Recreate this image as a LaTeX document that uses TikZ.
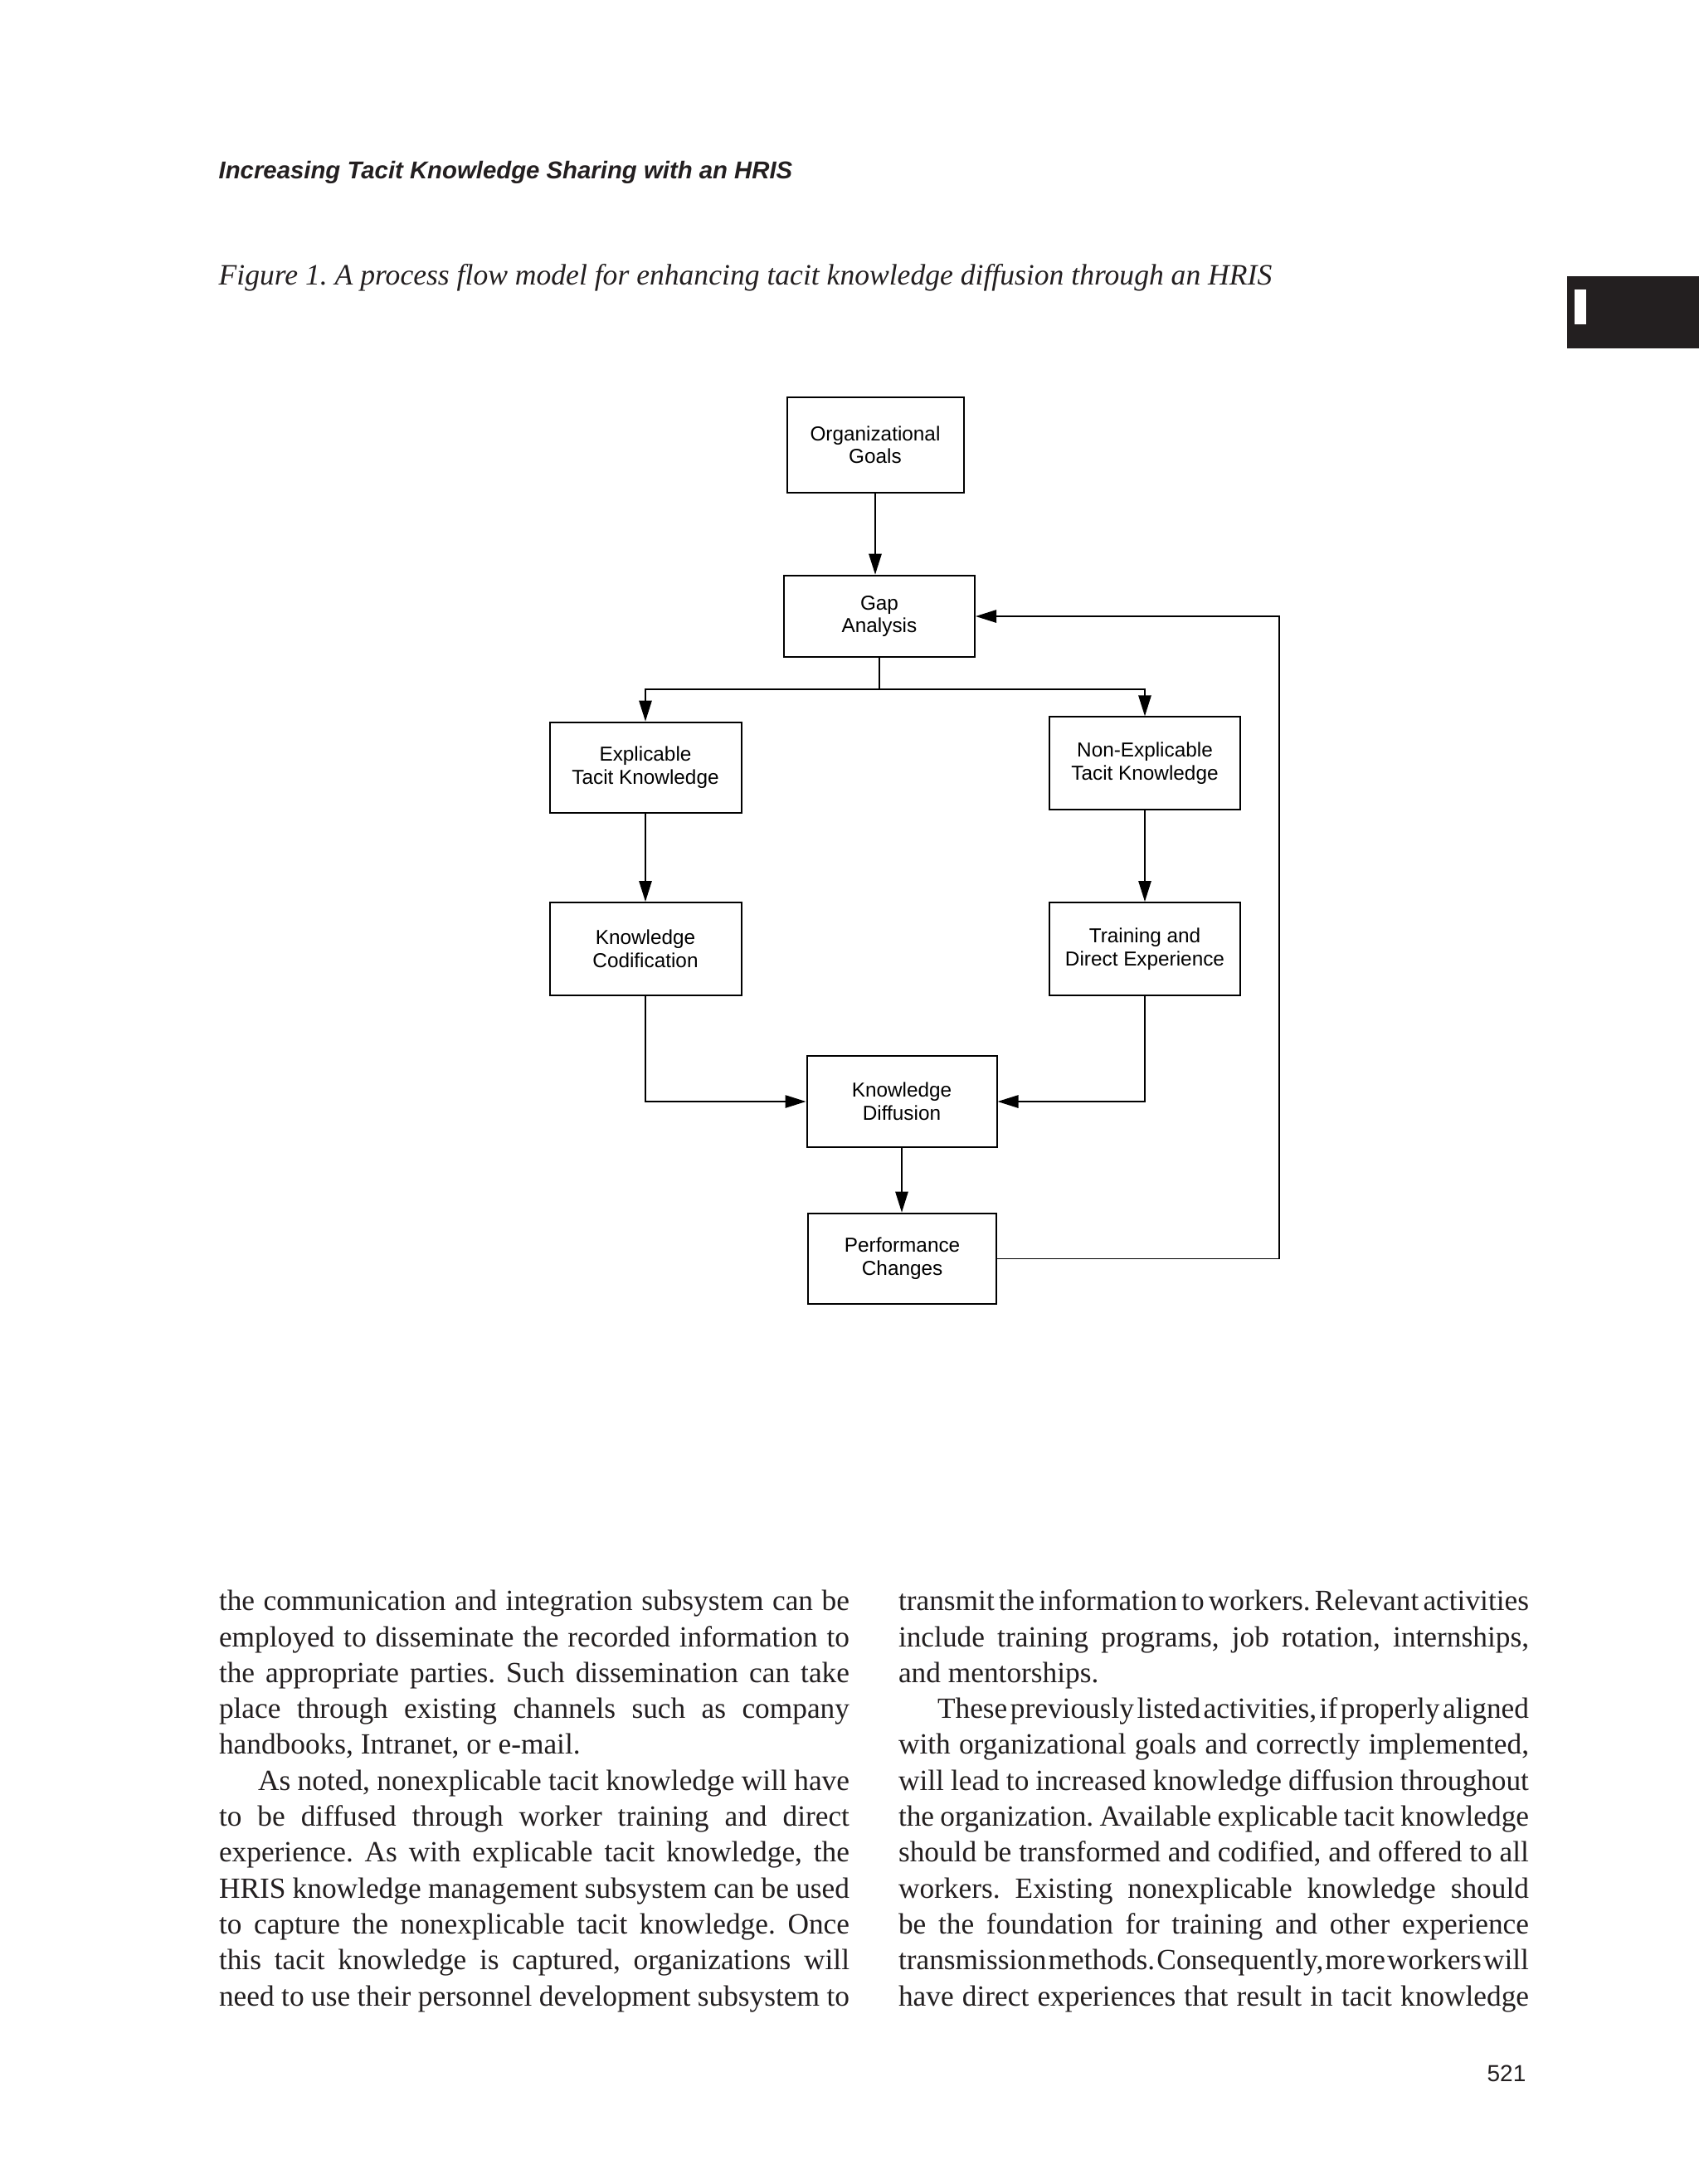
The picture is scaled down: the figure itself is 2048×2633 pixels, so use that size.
\documentclass[tikz,border=0pt]{standalone}
\usepackage{fontspec}
\setmainfont{Liberation Serif}
\setsansfont{Liberation Sans}
\usetikzlibrary{arrows.meta}
\definecolor{ink}{HTML}{231F20}
\newlength\colw \setlength\colw{228pt}
\newlength\colwi \setlength\colwi{213.9pt}
\newcommand\jl[1]{\hbox to \colw{\spaceskip=0.25em plus 0.8em minus 0.22em\relax #1}}
\newcommand\jli[1]{\hbox to \colwi{\spaceskip=0.25em plus 0.8em minus 0.22em\relax #1}}
\newcommand\nl[1]{\hbox{\spaceskip=0.25em\relax #1}}
\tikzset{
  box/.style={draw=black, line width=0.6pt, inner sep=0pt, align=center,
    font=\sffamily\fontsize{7.3pt}{8.3pt}\selectfont},
  arr/.style={-{Triangle[length=7.5pt,width=4.6pt]}, line width=0.5pt},
  conn/.style={line width=0.5pt},
  body/.style={anchor=base west, inner sep=0pt, outer sep=0pt,
    font=\frenchspacing\fontsize{10.6pt}{13pt}\selectfont, text=ink},
}
\begin{document}
\begin{tikzpicture}[x=0.3pt, y=-0.3pt]
\useasboundingbox (0,0) rectangle (2048,2633);
\fill[white] (0,0) rectangle (2048,2633);

% header, caption, tab, page number
\node[anchor=base west, inner sep=0pt, text=ink,
  font=\sffamily\bfseries\itshape\fontsize{8.8pt}{10pt}\selectfont] (head) at (263,215)
  {Increasing Tacit Knowledge Sharing with an HRIS};
\node[anchor=base west, inner sep=0pt, text=ink,
  font=\frenchspacing\itshape\fontsize{10.68pt}{13pt}\selectfont] (cap) at (263,343)
  {Figure 1. A process flow model for enhancing tacit knowledge diffusion through an HRIS};
\fill[ink] (1889,333) rectangle (2048,420);
\fill[white] (1898,349) rectangle (1912,391);
\node[anchor=base east, inner sep=0pt, text=ink,
  font=\sffamily\fontsize{8.4pt}{10pt}\selectfont] (pnum) at (1840,2509) {521};

% diagram boxes
\node[box, minimum width=63.9pt, minimum height=34.5pt] (org) at (1055,536.4) {Organizational\\Goals};
\node[box, minimum width=69pt, minimum height=29.6pt] (gap) at (1060,743) {Gap\\Analysis};
\node[box, minimum width=69.3pt, minimum height=32.8pt] (expl) at (778,925.3) {Explicable\\Tacit Knowledge};
\node[box, minimum width=69.2pt, minimum height=33.5pt] (nonexp) at (1380,920.2) {Non-Explicable\\Tacit Knowledge};
\node[box, minimum width=69.3pt, minimum height=33.6pt] (codif) at (778,1144) {Knowledge\\Codification};
\node[box, minimum width=69.2pt, minimum height=33.6pt] (train) at (1380,1144) {Training and\\Direct Experience};
\node[box, minimum width=68.7pt, minimum height=33pt] (diff) at (1087,1328) {Knowledge\\Diffusion};
\node[box, minimum width=68.3pt, minimum height=32.9pt] (perf) at (1087.6,1517.5) {Performance\\Changes};

% connectors
\coordinate (sp) at (1060,831);
\coordinate (fbx) at (1542.3,0);
\draw[arr] (org.south) -- (org.south |- gap.north);
\draw[conn] (gap.south) -- (sp);
\draw[arr] (sp) -| (expl.north);
\draw[arr] (sp) -| (nonexp.north);
\draw[arr] (expl.south) -- (codif.north);
\draw[arr] (nonexp.south) -- (train.north);
\draw[arr] (codif.south) |- (diff.west);
\draw[arr] (train.south) |- (diff.east);
\draw[arr] (diff.south) -- (diff.south |- perf.north);
\draw[arr] (perf.east) -- (perf.east -| fbx) |- (gap.east);

% left column
\node[body] (L1) at (264,1941.7) {\jl{the communication and integration subsystem can be}};
\node[body] (L2) at (264,1985.0) {\jl{employed to disseminate the recorded information to}};
\node[body] (L3) at (264,2028.3) {\jl{the appropriate parties. Such dissemination can take}};
\node[body] (L4) at (264,2071.6) {\jl{place through existing channels such as company}};
\node[body] (L5) at (264,2114.9) {\nl{handbooks, Intranet, or e-mail.}};
\node[body] (L6) at (311,2158.2) {\jli{As noted, nonexplicable tacit knowledge will have}};
\node[body] (L7) at (264,2201.5) {\jl{to be diffused through worker training and direct}};
\node[body] (L8) at (264,2244.8) {\jl{experience. As with explicable tacit knowledge, the}};
\node[body] (L9) at (264,2288.1) {\jl{HRIS knowledge management subsystem can be used}};
\node[body] (L10) at (264,2331.4) {\jl{to capture the nonexplicable tacit knowledge. Once}};
\node[body] (L11) at (264,2374.7) {\jl{this tacit knowledge is captured, organizations will}};
\node[body] (L12) at (264,2418.0) {\jl{need to use their personnel development subsystem to}};

% right column
\node[body] (R1) at (1083,1941.7) {\jl{transmit the information to workers. Relevant activities}};
\node[body] (R2) at (1083,1985.0) {\jl{include training programs, job rotation, internships,}};
\node[body] (R3) at (1083,2028.3) {\nl{and mentorships.}};
\node[body] (R4) at (1130,2071.6) {\jli{These previously listed activities, if properly aligned}};
\node[body] (R5) at (1083,2114.9) {\jl{with organizational goals and correctly implemented,}};
\node[body] (R6) at (1083,2158.2) {\jl{will lead to increased knowledge diffusion throughout}};
\node[body] (R7) at (1083,2201.5) {\jl{the organization. Available explicable tacit knowledge}};
\node[body] (R8) at (1083,2244.8) {\jl{should be transformed and codified, and offered to all}};
\node[body] (R9) at (1083,2288.1) {\jl{workers. Existing nonexplicable knowledge should}};
\node[body] (R10) at (1083,2331.4) {\jl{be the foundation for training and other experience}};
\node[body] (R11) at (1083,2374.7) {\jl{transmission methods. Consequently, more workers will}};
\node[body] (R12) at (1083,2418.0) {\jl{have direct experiences that result in tacit knowledge}};
\end{tikzpicture}
\end{document}
